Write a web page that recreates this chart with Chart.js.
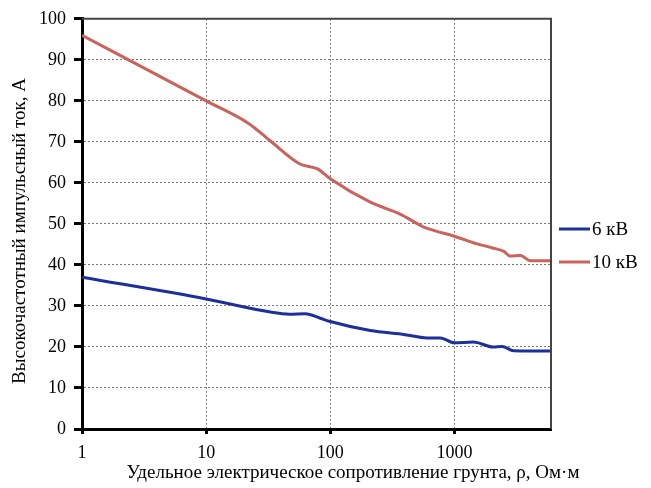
<!DOCTYPE html>
<html>
<head>
<meta charset="utf-8">
<script src="https://cdn.jsdelivr.net/npm/chart.js@4.4.1/dist/chart.umd.min.js"></script>
<style>
  html, body { margin: 0; padding: 0; background: #fff; }
  #wrap { width: 651px; height: 488px; }
</style>
</head>
<body>
<div id="wrap"><canvas id="myChart" width="651" height="488"></canvas></div>
<script>
// tick values
const xTicks = [1, 10, 100, 1000];
const yTicks = [0, 10, 20, 30, 40, 50, 60, 70, 80, 90, 100];

// 6 kV curve
const rho6 = [1, 10, 33, 47, 63, 83, 100, 210, 400, 600, 770, 1000, 1420, 2050, 2420, 3000, 6000];
const current6 = [37, 31.7, 28.5, 28, 28.1, 27, 26.2, 24, 23, 22.2, 22.2, 21, 21.2, 20, 20.1, 19.1, 19];

// 10 kV curve
const rho10 = [1, 10, 22, 33, 57, 79, 100, 210, 365, 560, 700, 1000, 1500, 2000, 2500, 2800, 3400, 4100, 6000];
const current10 = [96, 80, 74.5, 70.2, 64.6, 63.4, 61, 55.3, 52.4, 49.3, 48.3, 47, 45.2, 44.2, 43.3, 42.2, 42.3, 41, 41];

const seriesNames = ['6 кВ', '10 кВ'];
const seriesColors = ['#1d2f9b', '#c9635b'];

const xTitle = 'Удельное электрическое сопротивление грунта, ρ, Ом·м';
const yTitle = 'Высокочастотный импульсный ток, А';

const fontFamily = '"Liberation Serif", "Times New Roman", serif';

function toPoints(xs, ys) {
    return xs.map((x, i) => ({ x: x, y: ys[i] }));
}

// frame, legend and axis titles
const extras = {
    id: 'extras',
    afterDraw(chart) {
        const ctx = chart.ctx;
        const a = chart.chartArea;
        ctx.save();
        ctx.strokeStyle = '#444';
        ctx.lineWidth = 2;
        ctx.beginPath();
        ctx.moveTo(a.left, a.top);
        ctx.lineTo(a.right, a.top);
        ctx.lineTo(a.right, a.bottom);
        ctx.stroke();

        ctx.font = '19px ' + fontFamily;
        ctx.fillStyle = '#000';
        ctx.textBaseline = 'middle';
        chart.data.datasets.forEach((ds, i) => {
            const y = 229 + i * 33;
            ctx.strokeStyle = ds.borderColor;
            ctx.lineWidth = 3;
            ctx.beginPath();
            ctx.moveTo(559, y);
            ctx.lineTo(590, y);
            ctx.stroke();
            ctx.textAlign = 'left';
            ctx.fillText(ds.label, 592, y + 1);
        });

        ctx.textAlign = 'center';
        ctx.fillText(xTitle, 353, 473);

        ctx.translate(20, 231);
        ctx.rotate(-Math.PI / 2);
        ctx.fillText(yTitle, 0, 0);
        ctx.restore();
    }
};

new Chart(document.getElementById('myChart').getContext('2d'), {
    type: 'line',
    data: {
        datasets: [
            {
                label: seriesNames[0],
                data: toPoints(rho6, current6),
                borderColor: seriesColors[0],
                backgroundColor: seriesColors[0],
                borderWidth: 3,
                pointRadius: 0,
                cubicInterpolationMode: 'monotone'
            },
            {
                label: seriesNames[1],
                data: toPoints(rho10, current10),
                borderColor: seriesColors[1],
                backgroundColor: seriesColors[1],
                borderWidth: 3,
                pointRadius: 0,
                cubicInterpolationMode: 'monotone'
            }
        ]
    },
    options: {
        responsive: false,
        animation: false,
        layout: { padding: { top: 15, right: 100, left: 0, bottom: 0 } },
        plugins: {
            legend: { display: false },
            tooltip: { enabled: false }
        },
        scales: {
            x: {
                type: 'logarithmic',
                min: 1,
                max: 6000,
                afterBuildTicks: s => { s.ticks = xTicks.map(v => ({ value: v })); },
                afterFit: s => { s.height = 59; },
                ticks: {
                    color: '#000',
                    font: { family: fontFamily, size: 18 },
                    padding: 8,
                    maxRotation: 0,
                    autoSkip: false,
                    callback: v => String(v)
                },
                grid: {
                    color: '#777',
                    lineWidth: 1,
                    tickLength: 5,
                    tickColor: '#000',
                    tickWidth: 3
                },
                border: { color: '#000', width: 3, dash: [2, 2] }
            },
            y: {
                min: 0,
                max: 100,
                afterBuildTicks: s => { s.ticks = yTicks.map(v => ({ value: v })); },
                afterFit: s => { s.width = 82; },
                ticks: {
                    color: '#000',
                    font: { family: fontFamily, size: 18 },
                    padding: 8,
                    callback: v => String(v)
                },
                grid: {
                    color: '#777',
                    lineWidth: 1,
                    tickLength: 8,
                    tickColor: '#000',
                    tickWidth: 3
                },
                border: { color: '#000', width: 3, dash: [2, 2] }
            }
        }
    },
    plugins: [extras]
});
</script>
</body>
</html>
